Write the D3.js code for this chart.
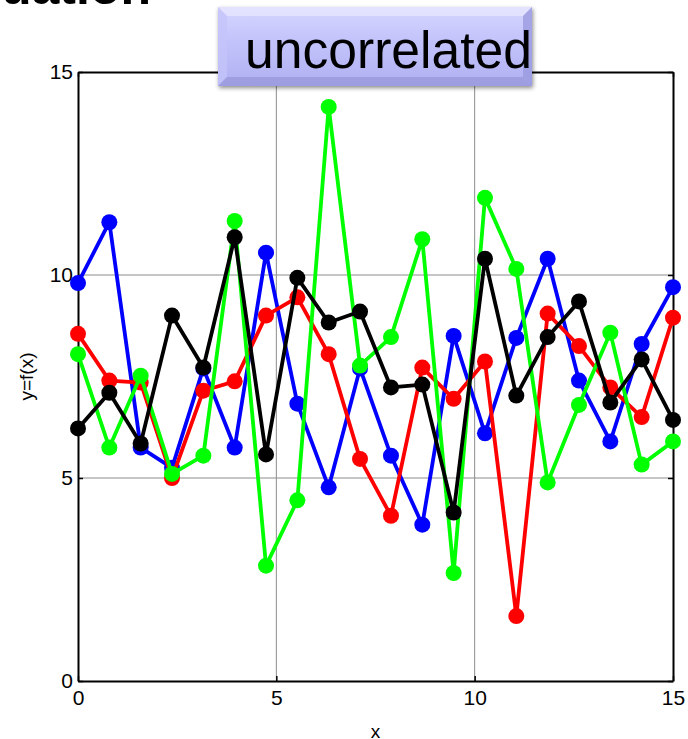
<!DOCTYPE html>
<html lang="en">
<head>
  <meta charset="utf-8">
  <title>uncorrelated</title>
  <script src="https://cdn.jsdelivr.net/npm/d3@7"></script>
  <style>
    body { margin: 0; background: #fff; }
    svg { display: block; font-family: "Liberation Sans", Arial, sans-serif; }
  </style>
</head>
<body>
<svg width="688" height="739"></svg>
<script>
// sample positions along x
var xVals = [0, 0.79, 1.58, 2.37, 3.16, 3.95, 4.74, 5.53, 6.32, 7.11,
             7.89, 8.68, 9.47, 10.26, 11.05, 11.84, 12.63, 13.42, 14.21, 15];

var blueVals  = [9.8, 11.3, 5.75, 5.25, 7.7, 5.75, 10.55, 6.83, 4.77, 7.7,
                 5.55, 3.85, 8.5, 6.1, 8.45, 10.4, 7.4, 5.9, 8.3, 9.7];
var redVals   = [8.55, 7.4, 7.35, 5.0, 7.15, 7.38, 9.0, 9.45, 8.05, 5.47,
                 4.07, 7.72, 6.95, 7.87, 1.6, 9.05, 8.25, 7.23, 6.5, 8.95];
var greenVals = [8.05, 5.75, 7.52, 5.1, 5.55, 11.33, 2.84, 4.45, 14.14, 7.77,
                 8.47, 10.88, 2.66, 11.9, 10.15, 4.89, 6.8, 8.58, 5.33, 5.9];
var blackVals = [6.22, 7.1, 5.85, 9.0, 7.72, 10.93, 5.58, 9.93, 8.83, 9.1,
                 7.23, 7.3, 4.15, 10.4, 7.03, 8.47, 9.35, 6.86, 7.92, 6.43];

var xTicks = [0, 5, 10, 15];
var yTicks = [0, 5, 10, 15];

var series = [
  {name: "blue",  color: "#0000ff", values: blueVals},
  {name: "red",   color: "#ff0000", values: redVals},
  {name: "green", color: "#00ff00", values: greenVals},
  {name: "black", color: "#000000", values: blackVals}
];

var svg = d3.select("svg");
var plot = {left: 78, right: 673, top: 72, bottom: 681};

var x = d3.scaleLinear().domain([0, 15]).range([plot.left, plot.right]);
var y = d3.scaleLinear().domain([0, 15]).range([plot.bottom, plot.top]);

// grid lines
svg.append("g").selectAll("line")
    .data(xTicks.slice(1, -1))
  .enter().append("line")
    .attr("x1", function(d) { return x(d); }).attr("x2", function(d) { return x(d); })
    .attr("y1", plot.top).attr("y2", plot.bottom)
    .attr("stroke", "#8c8c8c").attr("stroke-width", 1);
svg.append("g").selectAll("line")
    .data(yTicks.slice(1, -1))
  .enter().append("line")
    .attr("x1", plot.left).attr("x2", plot.right)
    .attr("y1", function(d) { return y(d); }).attr("y2", function(d) { return y(d); })
    .attr("stroke", "#8c8c8c").attr("stroke-width", 1);

// axes (matlab style, ticks inward, box on all sides)
var ax = svg.append("g");
ax.append("g")
    .attr("transform", "translate(0," + plot.bottom + ")")
    .call(d3.axisBottom(x).tickValues(xTicks).tickSizeInner(-5).tickSizeOuter(0).tickPadding(9));
ax.append("g")
    .attr("transform", "translate(" + plot.left + ",0)")
    .call(d3.axisLeft(y).tickValues(yTicks).tickSizeInner(-5).tickSizeOuter(0).tickPadding(5));
ax.append("g")
    .attr("transform", "translate(0," + plot.top + ")")
    .call(d3.axisTop(x).tickValues(xTicks).tickSizeInner(-5).tickSizeOuter(0).tickFormat(""));
ax.append("g")
    .attr("transform", "translate(" + plot.right + ",0)")
    .call(d3.axisRight(y).tickValues(yTicks).tickSizeInner(-5).tickSizeOuter(0).tickFormat(""));
ax.selectAll(".domain").attr("stroke", "#000").attr("stroke-width", 2);
ax.selectAll(".tick line").attr("stroke", "#000").attr("stroke-width", 1.5);
ax.selectAll(".tick text")
    .attr("fill", "#000")
    .style("font-size", "21px")
    .style("font-family", "'Liberation Sans', Arial, sans-serif");

// axis labels
svg.append("text")
    .attr("x", (plot.left + plot.right) / 2).attr("y", 738)
    .attr("text-anchor", "middle")
    .style("font-size", "19px")
    .text("x");
svg.append("text")
    .attr("transform", "translate(33," + ((plot.top + plot.bottom) / 2) + ") rotate(-90)")
    .attr("text-anchor", "middle")
    .style("font-size", "19px")
    .text("y=f(x)");

// lines and markers
var line = d3.line()
    .x(function(d, i) { return x(xVals[i]); })
    .y(function(d) { return y(d); });

var s = svg.selectAll(".series")
    .data(series)
  .enter().append("g")
    .attr("class", "series");

s.append("path")
    .attr("d", function(d) { return line(d.values); })
    .attr("fill", "none")
    .attr("stroke", function(d) { return d.color; })
    .attr("stroke-width", 3.8)
    .attr("stroke-linejoin", "round");

s.selectAll("circle")
    .data(function(d) { return d.values.map(function(v, i) { return {x: xVals[i], y: v, c: d.color}; }); })
  .enter().append("circle")
    .attr("cx", function(d) { return x(d.x); })
    .attr("cy", function(d) { return y(d.y); })
    .attr("r", 8)
    .attr("fill", function(d) { return d.c; });

// slide heading, mostly cut off at the top edge
svg.append("text")
    .attr("x", 151).attr("y", 4)
    .attr("text-anchor", "end")
    .style("font-size", "50px")
    .style("font-weight", "bold")
    .text("Equation");

// title button
var defs = svg.append("defs");
var grad = defs.append("linearGradient").attr("id", "btn").attr("x1", 0).attr("y1", 0).attr("x2", 0).attr("y2", 1);
grad.append("stop").attr("offset", "0%").attr("stop-color", "#d6d6ff");
grad.append("stop").attr("offset", "45%").attr("stop-color", "#c2c2fb");
grad.append("stop").attr("offset", "100%").attr("stop-color", "#b0b0f2");
var shadow = defs.append("filter").attr("id", "shadow").attr("x", -0.1).attr("y", -0.1).attr("width", 1.2).attr("height", 1.3);
shadow.append("feDropShadow").attr("dx", 1).attr("dy", 2).attr("stdDeviation", 2).attr("flood-color", "#000").attr("flood-opacity", 0.45);

var bx = 218, by = 7, bw = 314, bh = 79, bev = 9;
var btn = svg.append("g");
btn.append("rect")
    .attr("x", bx).attr("y", by).attr("width", bw).attr("height", bh)
    .attr("fill", "url(#btn)")
    .attr("filter", "url(#shadow)");
// bevel edges
btn.append("path")
    .attr("d", "M" + bx + "," + by + "h" + bw + "l" + (-bev) + "," + bev + "h" + (-(bw - 2 * bev)) + "z")
    .attr("fill", "#e6e6ff").attr("opacity", 0.8);
btn.append("path")
    .attr("d", "M" + bx + "," + by + "l" + bev + "," + bev + "v" + (bh - 2 * bev) + "l" + (-bev) + "," + bev + "z")
    .attr("fill", "#c4c4fa").attr("opacity", 0.8);
btn.append("path")
    .attr("d", "M" + (bx + bw) + "," + by + "l" + (-bev) + "," + bev + "v" + (bh - 2 * bev) + "l" + bev + "," + bev + "z")
    .attr("fill", "#9a9ae0").attr("opacity", 0.8);
btn.append("path")
    .attr("d", "M" + bx + "," + (by + bh) + "l" + bev + "," + (-bev) + "h" + (bw - 2 * bev) + "l" + bev + "," + bev + "z")
    .attr("fill", "#9898dc").attr("opacity", 0.8);
btn.append("text")
    .attr("x", 245).attr("y", 68)
    .style("font-size", "51px")
    .attr("fill", "#000")
    .attr("textLength", 287)
    .attr("lengthAdjust", "spacingAndGlyphs")
    .text("uncorrelated");
</script>
</body>
</html>
